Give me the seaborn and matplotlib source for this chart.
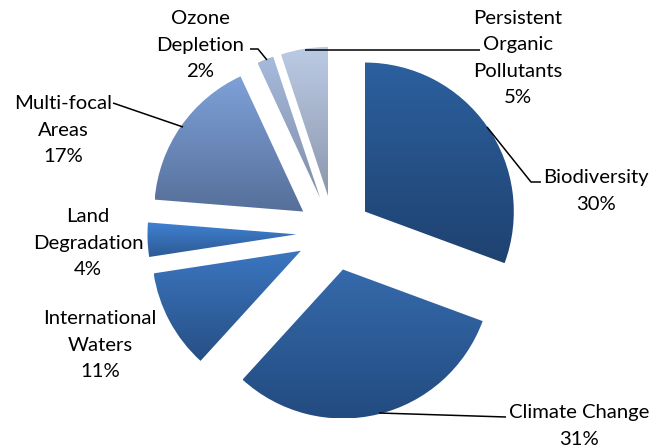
import numpy as np
import matplotlib.pyplot as plt
import seaborn as sns

labels = ['Biodiversity', 'Climate Change', 'International\nWaters', 'Land\nDegradation',
          'Multi-focal\nAreas', 'Ozone\nDepletion', 'Persistent\nOrganic\nPollutants']
# printed percentages, and the slice sizes as measured from the slice angles
percents = [30, 31, 11, 4, 17, 2, 5]
shares = [30.6, 31.1, 10.8, 3.7, 16.8, 1.8, 5.1]
top_colors = ['#2c609f', '#366aab', '#3b76c0', '#4081d2', '#7ea1d8', '#a7bbdd', '#bccbe5']
bottom_colors = ['#1f4270', '#224b80', '#274f85', '#2c5a94', '#566f9a', '#7f8da8', '#8c97ad']

# pixel layout of the reference
W, H = 658, 448
CX, CY, R = 334, 233, 149
label_pos = [(596, 191), (579, 426), (100, 345), (88, 243), (63, 130), (200, 45), (518, 58)]
leaders = [
    [(487, 127), (531, 182), (541, 182)],
    [(379, 413), (506, 417)],
    [(183, 127), (113, 103)],
    [(267, 60), (258, 49), (250, 49)],
    [(305, 50), (480, 50)],
]


def px(x, y):
    return (x - CX) / R, (CY - y) / R


sns.set_theme(style='white')
plt.rcParams['font.family'] = ['Lato', 'DejaVu Sans']

fig = plt.figure(figsize=(W / 100, H / 100), dpi=100)
ax = fig.add_axes([0, 0, 1, 1])

wedges, _ = ax.pie(shares, startangle=90, counterclock=False, radius=1,
                   explode=[0.252] * len(shares), wedgeprops={'linewidth': 0})

# vertical gradient inside every slice
grad = np.linspace(0, 1, 256).reshape(-1, 1)
for w, c1, c2 in zip(wedges, top_colors, bottom_colors):
    box = w.get_path().get_extents()
    cmap = sns.blend_palette([c1, c2], n_colors=256, as_cmap=True)
    im = ax.imshow(grad, cmap=cmap, aspect='auto', interpolation='bilinear',
                   extent=(box.x0, box.x1, box.y0, box.y1), origin='upper')
    im.set_clip_path(w)
    w.set_facecolor('none')

for pts in leaders:
    xy = np.array([px(*p) for p in pts])
    ax.plot(xy[:, 0], xy[:, 1], color='black', lw=1.1, solid_capstyle='butt')

for name, val, pos in zip(labels, percents, label_pos):
    x, y = px(*pos)
    ax.text(x, y, f'{name}\n{val}%', ha='center', va='center', fontsize=14.6,
            color='black', linespacing=1.66)

ax.set_xlim(-CX / R, (W - CX) / R)
ax.set_ylim((CY - H) / R, CY / R)
ax.set_aspect('auto')
ax.axis('off')

plt.savefig('out.png', dpi=100)
